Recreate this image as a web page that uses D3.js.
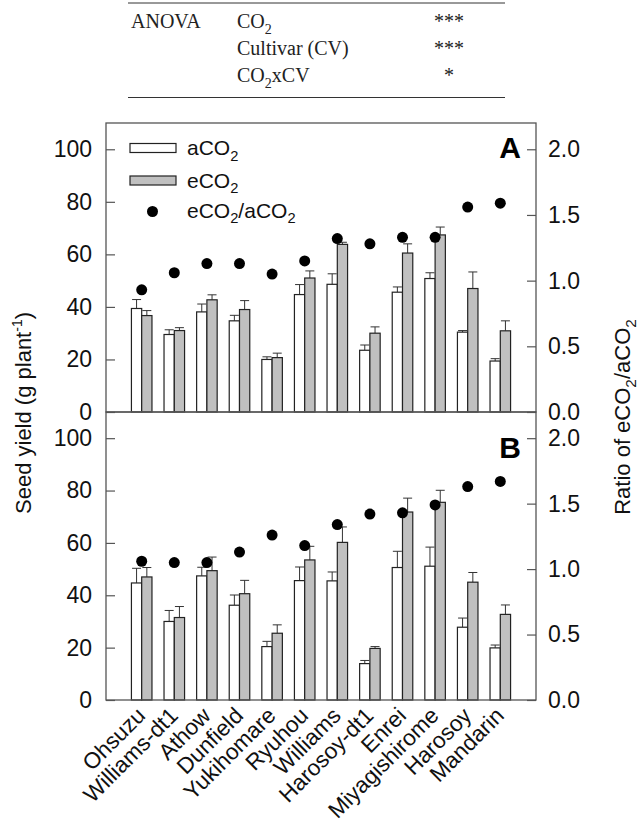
<!DOCTYPE html>
<html><head><meta charset="utf-8">
<script src="https://cdn.jsdelivr.net/npm/d3@7/dist/d3.min.js"></script>
<style>body{margin:0;background:#fff}svg{display:block}</style>
</head><body>
<script>
const cultivars = ["Ohsuzu","Williams-dt1","Athow","Dunfield","Yukihomare","Ryuhou","Williams","Harosoy-dt1","Enrei","Miyagishirome","Harosoy","Mandarin"];
// Panel A
const aCO2_A    = [39.4, 29.5, 38.1, 34.7, 20.0, 44.7, 48.6, 23.5, 45.6, 50.8, 30.4, 19.4];
const aCO2_Aerr = [3.4, 1.8, 3.0, 2.1, 1.0, 3.8, 4.0, 2.0, 2.0, 2.2, 0.6, 0.9];
const eCO2_A    = [36.7, 31.0, 42.7, 39.0, 20.7, 51.0, 63.8, 30.0, 60.5, 67.4, 47.0, 30.9];
const eCO2_Aerr = [1.9, 1.1, 1.9, 3.4, 1.7, 2.7, 0.8, 2.4, 3.5, 3.0, 6.3, 3.8];
const ratio_A   = [0.93, 1.06, 1.13, 1.13, 1.05, 1.15, 1.32, 1.28, 1.33, 1.33, 1.56, 1.59];
// Panel B
const aCO2_B    = [44.7, 30.0, 47.4, 36.2, 20.4, 45.6, 45.5, 13.9, 50.6, 51.1, 27.8, 19.9];
const aCO2_Berr = [5.6, 4.2, 3.3, 3.9, 2.0, 5.2, 3.4, 1.2, 6.2, 7.3, 3.5, 1.1];
const eCO2_B    = [47.0, 31.5, 49.4, 40.6, 25.5, 53.5, 60.2, 19.7, 71.8, 75.5, 45.0, 32.7];
const eCO2_Berr = [3.6, 4.2, 5.2, 5.1, 3.2, 5.2, 5.9, 0.7, 5.3, 4.6, 3.7, 3.6];
const ratio_B   = [1.06, 1.05, 1.05, 1.13, 1.26, 1.18, 1.34, 1.42, 1.43, 1.49, 1.63, 1.67];

const yieldTicks = [0, 20, 40, 60, 80, 100];
const ratioTicks = [0, 0.5, 1.0, 1.5, 2.0];
const anovaRows = [["ANOVA","CO2","***"],["","Cultivar (CV)","***"],["","CO2xCV","*"]];

const W = 641, H = 829;
const L = 106, R = 536;
const panels = [
  {label:"A", top:123, bottom:412, a:aCO2_A, ae:aCO2_Aerr, e:eCO2_A, ee:eCO2_Aerr, r:ratio_A},
  {label:"B", top:412, bottom:700, a:aCO2_B, ae:aCO2_Berr, e:eCO2_B, ee:eCO2_Berr, r:ratio_B}
];
const sans = "'Liberation Sans', Arial, sans-serif";
const serif = "'Liberation Serif', 'Times New Roman', serif";

const svg = d3.select("body").append("svg").attr("width", W).attr("height", H);

// write text where "CO2" gets a subscript 2
function subText(sel, str, fs) {
  const parts = str.split(/(CO2)/).filter(p => p.length);
  let pending = 0;
  parts.forEach(p => {
    if (p === "CO2") {
      sel.append("tspan").attr("dy", pending).text("CO");
      const sh = fs * 0.28;
      sel.append("tspan").attr("font-size", fs * 0.7).attr("dy", sh).text("2");
      pending = -sh;
    } else {
      sel.append("tspan").attr("dy", pending).text(p);
      pending = 0;
    }
  });
}

// ANOVA table
const tbl = svg.append("g");
tbl.append("line").attr("x1",128).attr("x2",505).attr("y1",3).attr("y2",3).attr("stroke","#333");
tbl.append("line").attr("x1",128).attr("x2",505).attr("y1",97.5).attr("y2",97.5).attr("stroke","#333");
const rowY = [28, 55, 82];
anovaRows.forEach((row, i) => {
  tbl.append("text").attr("x",131).attr("y",rowY[i]).attr("font-family",serif).attr("font-size",20).attr("fill","#222").text(row[0]);
  const t = tbl.append("text").attr("x",237).attr("y",rowY[i]).attr("font-family",serif).attr("font-size",20).attr("fill","#222");
  subText(t, row[1], 20);
  tbl.append("text").attr("x",449).attr("y",rowY[i]).attr("text-anchor","middle").attr("font-family",serif).attr("font-size",20).attr("fill","#222").text(row[2]);
});

const x = d3.scaleBand().domain(cultivars).range([L, R]).paddingInner(0.37).paddingOuter(0.78);
const bw = x.bandwidth() / 2;

panels.forEach(p => {
  const y = d3.scaleLinear().domain([0, 110]).range([p.bottom, p.top]);
  const yr = d3.scaleLinear().domain([0, 2.2]).range([p.bottom, p.top]);
  const g = svg.append("g");

  const data = cultivars.map((c, i) => ({c, a:p.a[i], ae:p.ae[i], e:p.e[i], ee:p.ee[i], r:p.r[i]}));
  // error bars (upper only, capped)
  [["a","ae",0],["e","ee",1]].forEach(([k, ke, off]) => {
    const eg = g.append("g").attr("stroke","#333").attr("stroke-width",1);
    data.forEach(d => {
      const cx = x(d.c) + off*bw + bw/2;
      eg.append("line").attr("x1",cx).attr("x2",cx).attr("y1",y(d[k])).attr("y2",y(d[k]+d[ke]));
      eg.append("line").attr("x1",cx-4.5).attr("x2",cx+4.5).attr("y1",y(d[k]+d[ke])).attr("y2",y(d[k]+d[ke]));
    });
  });
  g.selectAll(".ba").data(data).join("rect")
    .attr("x", d => x(d.c)).attr("width", bw)
    .attr("y", d => y(d.a)).attr("height", d => y(0) - y(d.a))
    .attr("fill","#fff").attr("stroke","#222").attr("stroke-width",1.2);
  g.selectAll(".be").data(data).join("rect")
    .attr("x", d => x(d.c) + bw).attr("width", bw)
    .attr("y", d => y(d.e)).attr("height", d => y(0) - y(d.e))
    .attr("fill","#c0c0c0").attr("stroke","#222").attr("stroke-width",1.2);
  g.selectAll(".dot").data(data).join("circle")
    .attr("cx", d => x(d.c) + x.bandwidth()/2).attr("cy", d => yr(d.r)).attr("r", 5.5).attr("fill","#000");

  g.append("rect").attr("x",L).attr("y",p.top).attr("width",R-L).attr("height",p.bottom-p.top)
    .attr("fill","none").attr("stroke","#555").attr("stroke-width",1.3);

  const ax = g.append("g").attr("transform",`translate(${L},0)`)
    .call(d3.axisLeft(y).tickValues(yieldTicks).tickSizeInner(-9).tickSizeOuter(0).tickPadding(14).tickFormat(d3.format("d")));
  const axr = g.append("g").attr("transform",`translate(${R},0)`)
    .call(d3.axisRight(yr).tickValues(ratioTicks).tickSizeInner(-9).tickSizeOuter(0).tickPadding(12).tickFormat(d3.format(".1f")));
  [ax, axr].forEach(a => {
    a.select(".domain").remove();
    a.selectAll(".tick line").attr("stroke","#555").attr("stroke-width",1.2);
    a.selectAll(".tick text").attr("font-family",sans).attr("font-size",23).attr("fill","#111");
  });

  g.append("text").attr("x",521).attr("y", p.top + (p.label==="A" ? 35 : 46)).attr("text-anchor","end")
    .attr("font-family",sans).attr("font-weight","bold").attr("font-size",30).attr("fill","#000").text(p.label);
});

// legend
const lg = svg.append("g").attr("font-family",sans).attr("font-size",21).attr("fill","#111");
lg.append("rect").attr("x",130).attr("y",143.5).attr("width",46).attr("height",9).attr("fill","#fff").attr("stroke","#222").attr("stroke-width",1.2);
lg.append("rect").attr("x",130).attr("y",176).attr("width",46).attr("height",9).attr("fill","#c0c0c0").attr("stroke","#222").attr("stroke-width",1.2);
lg.append("circle").attr("cx",152.5).attr("cy",211.5).attr("r",5.5).attr("fill","#000");
const legItems = [["aCO2",155],["eCO2",187.5],["eCO2/aCO2",217.5]];
legItems.forEach(([s, yb]) => subText(lg.append("text").attr("x",187).attr("y",yb), s, 21));

// x labels
const xl = svg.append("g");
cultivars.forEach(c => {
  const cx = x(c) + x.bandwidth()/2 + 5;
  xl.append("text").attr("transform",`translate(${cx},717) rotate(-45)`).attr("text-anchor","end")
    .attr("font-family",sans).attr("font-size",22.5).attr("fill","#111").text(c);
});

// y titles
const ly = svg.append("text").attr("transform","translate(31,413) rotate(-90)").attr("text-anchor","middle")
  .attr("font-family",sans).attr("font-size",22).attr("fill","#111");
ly.append("tspan").text("Seed yield (g plant");
ly.append("tspan").attr("font-size",14).attr("dy",-9).text("-1");
ly.append("tspan").attr("dy",9).text(")");

subText(svg.append("text").attr("transform","translate(630,417) rotate(-90)").attr("text-anchor","middle")
  .attr("font-family",sans).attr("font-size",22).attr("fill","#111"), "Ratio of eCO2/aCO2", 22);
</script>
</body></html>
